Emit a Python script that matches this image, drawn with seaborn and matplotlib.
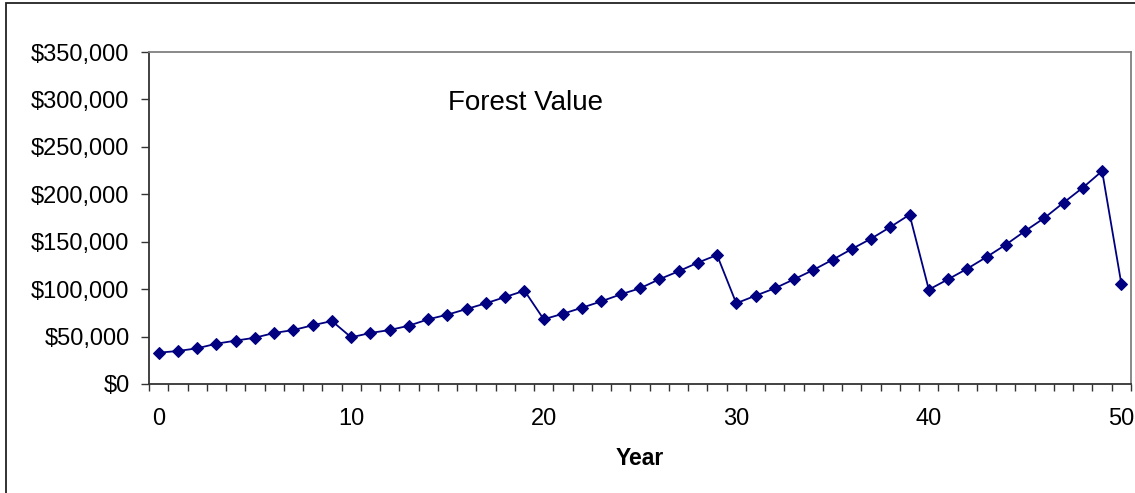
import matplotlib
matplotlib.use("Agg")
import matplotlib.pyplot as plt
import matplotlib.patches as patches
from matplotlib.ticker import FuncFormatter, FixedLocator
import numpy as np
import pandas as pd
import seaborn as sns

# Forest value by year (dollars)
years = list(range(0, 51))
forest_value = [
    33000, 34800, 37600, 42500, 45700, 48800, 53800, 56900, 61900, 66400,
    49200, 53800, 56900, 61500, 68200, 73100, 79100, 85100, 91700, 98400,
    68200, 74100, 80500, 87200, 94500, 100900, 110400, 118800, 127900, 136000,
    85100, 93100, 100900, 110400, 120200, 131000, 142300, 153200, 165500, 178500,
    99500, 110400, 121600, 133900, 146900, 161300, 175000, 191200, 207000, 224500,
    105400,
]
y_ticks = [0, 50000, 100000, 150000, 200000, 250000, 300000, 350000]
x_ticks = [0, 10, 20, 30, 40, 50]
chart_title = "Forest Value"
x_label = "Year"

df = pd.DataFrame({"Year": years, "Value": forest_value})

sns.set_theme(style="white")
plt.rcParams["font.family"] = ["Liberation Sans", "DejaVu Sans"]

fig = plt.figure(figsize=(11.35, 4.93), dpi=100)
ax = fig.add_axes([149 / 1135, 109 / 493, 982 / 1135, 332 / 493])

sns.lineplot(data=df, x="Year", y="Value", ax=ax, color="#000080",
             linewidth=1.3, marker="D", markersize=5.8,
             markeredgecolor="#000080", markerfacecolor="#000080")

ax.set_xlim(-0.5, 50.5)
ax.set_ylim(0, 350000)

# y axis: dollar labels with outward ticks
ax.yaxis.set_major_locator(FixedLocator(y_ticks))
ax.yaxis.set_major_formatter(FuncFormatter(lambda v, p: f"${v:,.0f}"))
ax.tick_params(axis="y", which="major", direction="out", length=6,
               width=1, color="#333333", labelsize=17, pad=8,
               left=True, labelcolor="black")

# x axis: category-style ticks between years, labels every 10 years
ax.xaxis.set_major_locator(FixedLocator(x_ticks))
ax.xaxis.set_minor_locator(FixedLocator(np.arange(-0.5, 51, 1.0)))
ax.tick_params(axis="x", which="major", length=0, labelsize=17, pad=17,
               labelcolor="black")
ax.tick_params(axis="x", which="minor", direction="out", length=5,
               width=1, color="#333333", bottom=True)

ax.set_xlabel(x_label, fontsize=16.5, fontweight="bold", color="black")
ax.xaxis.set_label_coords(0.5, -0.19)
ax.set_ylabel("")

for side in ["left", "bottom"]:
    ax.spines[side].set_color("#333333")
    ax.spines[side].set_linewidth(1.3)
for side in ["top", "right"]:
    ax.spines[side].set_color("#808080")
    ax.spines[side].set_linewidth(1.3)

ax.text(0.383, 0.846, chart_title, transform=ax.transAxes, fontsize=20,
        ha="center", va="center", color="black")

# chart-area border
fig.patches.append(patches.Rectangle((6 / 1135, -0.2), 1.2, 1.2 - 3 / 493,
                                     transform=fig.transFigure, fill=False,
                                     edgecolor="#222222", linewidth=1.3))

fig.savefig("out.png", dpi=100)
